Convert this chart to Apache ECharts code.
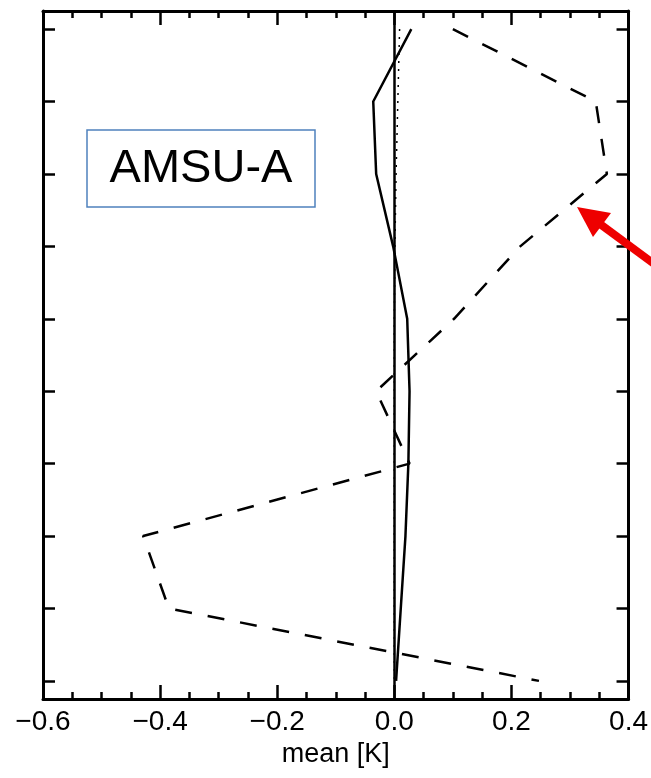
<!DOCTYPE html>
<html>
<head>
<meta charset="utf-8">
<script src="https://cdn.jsdelivr.net/npm/echarts@6/dist/echarts.min.js"></script>
<style>
html,body{margin:0;padding:0;background:#fff;}
#chart{width:651px;height:778px;}
</style>
</head>
<body>
<div id="chart"></div>
<script>
// Channel levels (top to bottom)
var channels = [14, 13, 12, 11, 10, 9, 8, 7, 6, 5];
// Mean difference [K]
var solidMean  = [0.029, -0.036, -0.031, -0.002, 0.022, 0.026, 0.024, 0.019, 0.011, 0.003];
var dashedMean = [0.100, 0.344, 0.363, 0.215, 0.102, -0.031, 0.026, -0.429, -0.385, 0.247];
var dottedMean = [0.009, 0.006, 0.003, 0.001, 0.000, 0.000, 0.000, 0.000, 0.000, 0.000];
var xTicks = [-0.6, -0.4, -0.2, 0.0, 0.2, 0.4];
var yTicks = [5, 6, 7, 8, 9, 10, 11, 12, 13, 14];
var boxLabel = 'AMSU-A';
var xName = 'mean [K]';

function pairs(vals){ return vals.map(function(v,i){ return [v, channels[i]]; }); }

var chart = echarts.init(document.getElementById('chart'), null, {renderer:'canvas'});
var FONT = 'Liberation Sans';
var axisLine = {show:true, onZero:false, lineStyle:{color:'#000', width:3}};
function xAx(pos, showLabel){
  return {
    type:'value', position:pos, min:xTicks[0], max:xTicks[xTicks.length-1], interval:0.2,
    axisLine:axisLine,
    axisTick:{show:true, inside:true, length:14, lineStyle:{color:'#000', width:2.5}},
    minorTick:{show:true, splitNumber:4, length:7, lineStyle:{color:'#000', width:2.5}},
    splitLine:{show:false}, minorSplitLine:{show:false},
    axisLabel:{show:showLabel, color:'#000', fontFamily:FONT, fontSize:28, margin:9,
      formatter:function(v){ return v.toFixed(1).replace('-', '\u2212'); }},
    name: showLabel ? xName : '', nameLocation:'middle', nameGap:36,
    nameTextStyle:{color:'#000', fontFamily:FONT, fontSize:27}
  };
}
function yAx(pos){
  return {
    type:'value', position:pos, min:4.75, max:14.25,
    axisLine:axisLine,
    axisTick:{show:true, inside:true, length:12, customValues:yTicks, lineStyle:{color:'#000', width:2.5}},
    axisLabel:{show:false},
    splitLine:{show:false}
  };
}

chart.setOption({
  animation:false,
  backgroundColor:'#fff',
  grid:{left:43, right:21, top:11, bottom:79, containLabel:false},
  xAxis:[xAx('bottom', true), xAx('top', false)],
  yAxis:[yAx('left'), yAx('right')],
  series:[
    {type:'line', data:pairs(dottedMean), symbol:'none', lineStyle:{color:'#000', width:1.5, type:[2,6]}, z:2},
    {type:'line', data:pairs(dashedMean), symbol:'none', lineStyle:{color:'#000', width:2.5, type:[17,16]}, z:3},
    {type:'line', data:pairs(solidMean), symbol:'none', lineStyle:{color:'#000', width:2.5}, z:4,
      markLine:{silent:true, symbol:['none','none'], label:{show:false},
        lineStyle:{color:'#000', width:2.5, type:'solid'}, data:[{xAxis:0}]}}
  ],
  graphic:[
    {type:'rect', shape:{x:87, y:130, width:228, height:77}, style:{fill:'#fff', stroke:'#4f81bd', lineWidth:1.5}, z:10},
    {type:'text', x:201, y:169, style:{text:boxLabel, fill:'#000', font:'47px "Liberation Sans"', align:'center', verticalAlign:'middle'}, z:11},
    {type:'line', shape:{x1:600, y1:224, x2:680, y2:283}, style:{stroke:'#ee0000', lineWidth:8}, z:12},
    {type:'polygon', shape:{points:[[577,207],[611,213],[593,237]]}, style:{fill:'#ee0000'}, z:12}
  ]
});
</script>
</body>
</html>
